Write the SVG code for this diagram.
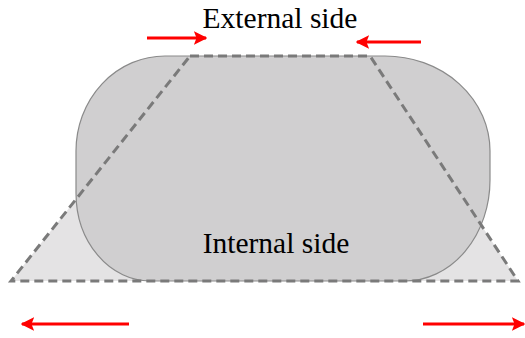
<svg xmlns="http://www.w3.org/2000/svg" width="525" height="338" viewBox="0 0 525 338">
<defs>
<style>
.lbl{font-family:"Liberation Serif","Times New Roman",serif;font-size:29.5px;fill:#000;text-anchor:middle}
.arr{stroke:#f00;stroke-width:3;fill:none;marker-end:url(#ah)}
</style>
<marker id="ah" viewBox="0 0 10 10" refX="9" refY="5" markerWidth="4.5" markerHeight="4.5" markerUnits="strokeWidth" orient="auto">
<path d="M0,0 L10,5 L0,10 L2,5 Z" fill="#f00"/>
</marker>
</defs>
<rect width="525" height="338" fill="#fff"/>
<g id="trapezoid-fill">
<polygon points="190,56 370,56 518,281 11,281" fill="#e4e3e4"/>
</g>
<g id="shape">
<path d="M165 56 H385 A105 95 0 0 1 490 151 V180 A85 101 0 0 1 405 281 H150 A74 88 0 0 1 76 193 V151 A89 95 0 0 1 165 56 Z" fill="#d0cfd0" stroke="#8a8a8a" stroke-width="1.2"/>
</g>
<g id="trapezoid">
<polygon points="190,56 370,56 518,281 11,281" fill="none" stroke="#7a7a7a" stroke-width="3" stroke-dasharray="9,5"/>
</g>
<g id="labels">
<text class="lbl" x="280" y="28">External side</text>
<text class="lbl" x="276" y="253">Internal side</text>
</g>
<g id="connectors">
<line class="arr" x1="147" y1="38" x2="206" y2="38"/>
<line class="arr" x1="421" y1="42" x2="357" y2="42"/>
<line class="arr" x1="129" y1="324" x2="22" y2="324"/>
<line class="arr" x1="423" y1="324" x2="524" y2="324"/>
</g>
</svg>
